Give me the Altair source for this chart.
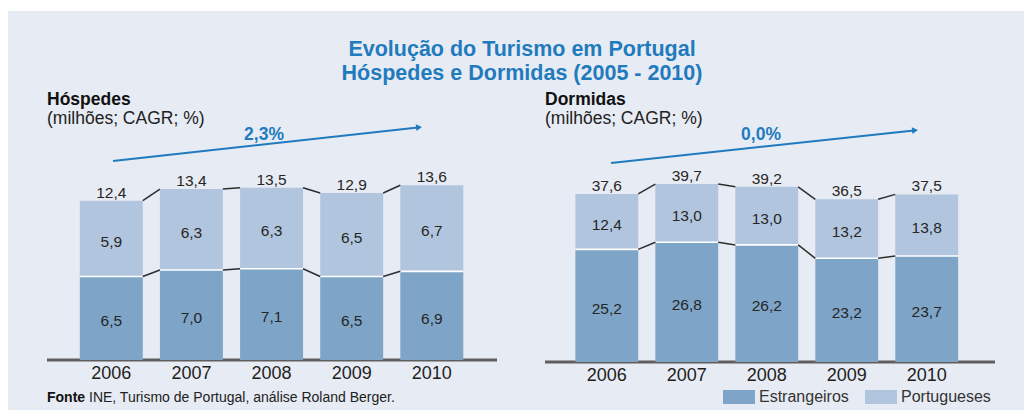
import altair as alt
import pandas as pd
import math

# ---------------- data ----------------
years = [2006, 2007, 2008, 2009, 2010]
series_names = ["Estrangeiros", "Portugueses"]
hosp_estrangeiros = [6.5, 7.0, 7.1, 6.5, 6.9]
hosp_portugueses = [5.9, 6.3, 6.3, 6.5, 6.7]
hosp_totais = [12.4, 13.4, 13.5, 12.9, 13.6]
dorm_estrangeiros = [25.2, 26.8, 26.2, 23.2, 23.7]
dorm_portugueses = [12.4, 13.0, 13.0, 13.2, 13.8]
dorm_totais = [37.6, 39.7, 39.2, 36.5, 37.5]
panel_titles = ["Hóspedes", "Dormidas"]
panel_subtitle = "(milhões; CAGR; %)"
cagr_labels = ["2,3%", "0,0%"]
title_lines = ["Evolução do Turismo em Portugal", "Hóspedes e Dormidas (2005 - 2010)"]
source_bold = "Fonte"
source_text = "INE, Turismo de Portugal, análise Roland Berger."

# ---------------- style ----------------
FONT = "Liberation Sans, Arial, Helvetica, sans-serif"
DARK = "#7EA5C8"
LIGHT = "#B1C6DE"
BG = "#E7EBF3"
BLUE = "#1F7BBE"
TXT = "#262626"
HW = 0.393  # half bar width in year units


def fmt(v):
    return f"{v:.1f}".replace(".", ",")


def one(text=""):
    return pd.DataFrame({"t": [text]})


def text_layer(text, x, y, size, bold=False, color=TXT, align="left"):
    return alt.Chart(one(text)).mark_text(
        font=FONT, fontSize=size, fontWeight="bold" if bold else "normal",
        color=color, align=align, baseline="alphabetic"
    ).encode(x=alt.value(x), y=alt.value(y), text="t:N")


color_scale = alt.Scale(domain=series_names, range=[DARK, LIGHT])
legend = alt.Legend(
    orient="none", legendX=723, legendY=381, direction="horizontal", title=None,
    symbolType="M-1,-0.4375H1V0.4375H-1Z", symbolSize=1024, symbolStrokeWidth=0,
    symbolOpacity=1, labelFontSize=16, labelFont=FONT, labelColor="#333333",
    labelOffset=4, columnPadding=16, padding=0, labelLimit=0,
)


def panel(estr, port, tot, x_rng, base, k, ymax, year_y):
    tops = [e + p for e, p in zip(estr, port)]
    segs = pd.DataFrame({
        "year": years * 2,
        "series": [series_names[0]] * len(years) + [series_names[1]] * len(years),
        "start": [0] * len(years) + estr,
        "end": estr + tops,
        "value": estr + port,
    })
    segs["label"] = segs["value"].map(fmt)
    totals = pd.DataFrame({"year": years, "top": tops, "estr": estr,
                           "label": [fmt(v) for v in tot]})
    conn_rows = []
    for level in (estr, tops):
        for i in range(len(years) - 1):
            conn_rows.append({"a": years[i], "b": years[i + 1],
                              "ya": level[i], "yb": level[i + 1]})
    conns = pd.DataFrame(conn_rows)

    xs = alt.Scale(domain=[years[0], years[-1]], range=x_rng, zero=False, nice=False)
    ys = alt.Scale(domain=[0, ymax], range=[base, base - ymax * k], zero=False, nice=False)

    bars = alt.Chart(segs).transform_calculate(
        x0=f"datum.year - {HW}", x1=f"datum.year + {HW}"
    ).mark_rect().encode(
        x=alt.X("x0:Q", scale=xs, axis=None),
        x2="x1:Q",
        y=alt.Y("start:Q", scale=ys, axis=None),
        y2="end:Q",
        color=alt.Color("series:N", scale=color_scale, legend=legend),
    )
    sep = alt.Chart(totals).transform_calculate(
        x0=f"datum.year - {HW}", x1=f"datum.year + {HW}"
    ).mark_rule(color="white", strokeWidth=1.6).encode(
        x=alt.X("x0:Q", scale=xs, axis=None), x2="x1:Q",
        y=alt.Y("estr:Q", scale=ys, axis=None),
    )
    links = alt.Chart(conns).transform_calculate(
        xa=f"datum.a + {HW}", xb=f"datum.b - {HW}"
    ).mark_rule(color="#2E2E2E", strokeWidth=1.5).encode(
        x=alt.X("xa:Q", scale=xs, axis=None), x2="xb:Q",
        y=alt.Y("ya:Q", scale=ys, axis=None), y2="yb:Q",
    )
    seg_labels = alt.Chart(segs).transform_calculate(
        mid="(datum.start + datum.end) / 2"
    ).mark_text(font=FONT, fontSize=15.5, color=TXT, baseline="middle", dy=3).encode(
        x=alt.X("year:Q", scale=xs, axis=None),
        y=alt.Y("mid:Q", scale=ys, axis=None),
        text="label:N",
    )
    tot_labels = alt.Chart(totals).mark_text(
        font=FONT, fontSize=15.5, color=TXT, baseline="alphabetic", dy=-3
    ).encode(
        x=alt.X("year:Q", scale=xs, axis=None),
        y=alt.Y("top:Q", scale=ys, axis=None),
        text="label:N",
    )
    year_labels = alt.Chart(totals).mark_text(
        font=FONT, fontSize=18, color="#1E1E1E", baseline="alphabetic"
    ).encode(
        x=alt.X("year:Q", scale=xs, axis=None),
        y=alt.value(year_y),
        text=alt.Text("year:Q", format="d"),
    )
    return [bars, sep, links, seg_labels, tot_labels, year_labels]


def decor(x_left, title, cagr, ax0, ay0, ax1, ay1, cagr_x, cagr_y, axis_y):
    ang = math.degrees(math.atan2(ay1 - ay0, ax1 - ax0))
    rot = (ang + 360) % 360
    slope = (ay0 - ay1) / (ax1 - ax0)
    base_rule = alt.Chart(one()).mark_rule(color="#5E5E5E", strokeWidth=3).encode(
        x=alt.value(x_left), x2=alt.value(x_left + 450), y=alt.value(axis_y))
    arrow = alt.Chart(one()).mark_rule(color=BLUE, strokeWidth=2).encode(
        x=alt.value(ax0), x2=alt.value(ax1 - 4), y=alt.value(ay0),
        y2=alt.value(ay1 + 4 * slope))
    head = alt.Chart(one()).mark_point(
        shape="triangle-right", filled=True, size=45, color=BLUE, opacity=1, angle=rot
    ).encode(x=alt.value(ax1 - 3), y=alt.value(ay1 + 3 * slope))
    return [
        base_rule, arrow, head,
        text_layer(cagr, cagr_x, cagr_y, 17.5, bold=True, color=BLUE, align="center"),
        text_layer(title, x_left, 105, 17.5, bold=True, color="#111111"),
        text_layer(panel_subtitle, x_left, 124, 17.5, color="#222222"),
    ]


bg = alt.Chart(one()).mark_rect(color=BG).encode(
    x=alt.value(8), x2=alt.value(1024), y=alt.value(11), y2=alt.value(410))

layers = [bg]
layers += [text_layer(title_lines[0], 522, 56, 21.5, bold=True, color=BLUE, align="center"),
           text_layer(title_lines[1], 522, 80, 21.5, bold=True, color=BLUE, align="center")]
layers += decor(47, panel_titles[0], cagr_labels[0], 113, 161, 422, 127, 264, 139.5, 360)
layers += decor(545, panel_titles[1], cagr_labels[1], 611, 163, 918, 130, 761, 140, 362)
layers += panel(hosp_estrangeiros, hosp_portugueses, hosp_totais,
                [111.3, 431.8], 360, 12.85, 15, 379)
layers += panel(dorm_estrangeiros, dorm_portugueses, dorm_totais,
                [606.8, 926.7], 362, 4.47, 45, 381)
layers += [text_layer(source_bold, 47, 402, 14, bold=True, color="#111111"),
           text_layer(source_text, 89, 402, 14, color="#222222")]

chart = alt.layer(*layers).resolve_scale(
    x="independent", y="independent"
).properties(
    width=1024, height=412,
    autosize=alt.AutoSizeParams(type="none"),
    padding=0,
    background="white",
).configure_view(strokeWidth=0)

chart.save("out.html", embed_options={"renderer": "svg", "actions": False})
